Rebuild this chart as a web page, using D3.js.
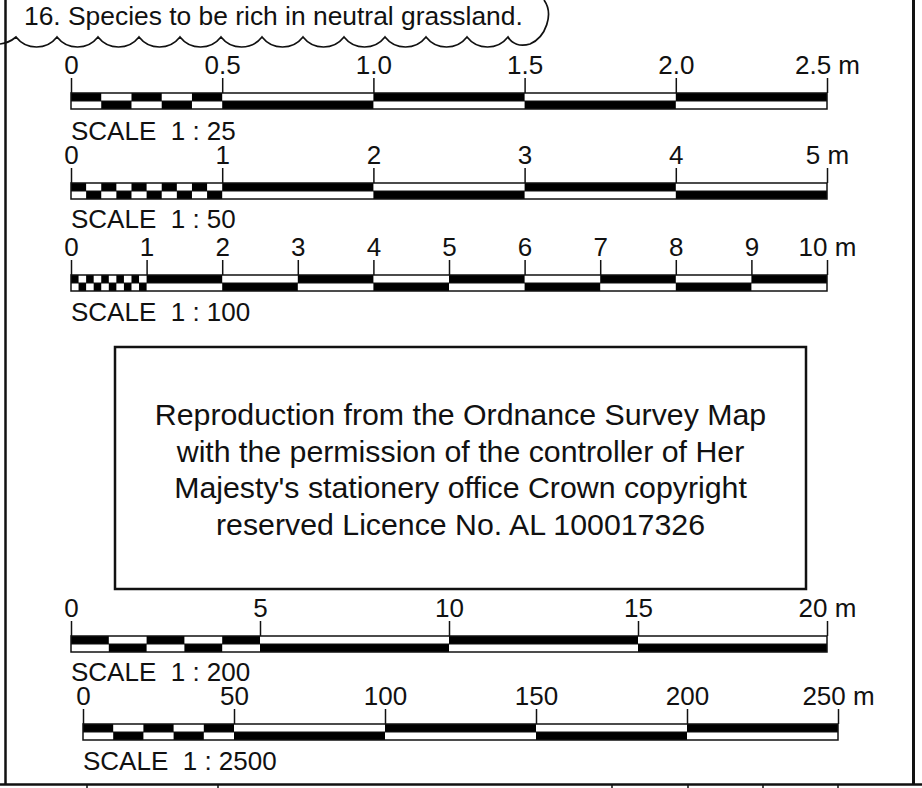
<!DOCTYPE html>
<html>
<head>
<meta charset="utf-8">
<script src="https://cdn.jsdelivr.net/npm/d3@7"></script>
<style>
  body { margin: 0; background: #fff; }
  svg { display: block; font-family: "Liberation Sans", Arial, sans-serif; }
  text { white-space: pre; fill: #111; }
</style>
</head>
<body>
<div id="chart"></div>
<script>
// scale bars, top to bottom
const scaleNames = ["SCALE  1 : 25", "SCALE  1 : 50", "SCALE  1 : 100", "SCALE  1 : 200", "SCALE  1 : 2500"];
const scaleMax = [2.5, 5, 10, 20, 250];
const scaleStep = [0.5, 1, 1, 5, 50];
const scaleSubdiv = [5, 10, 10, 5, 5];
const tickLabels = [
  ["0", "0.5", "1.0", "1.5", "2.0", "2.5 m"],
  ["0", "1", "2", "3", "4", "5 m"],
  ["0", "1", "2", "3", "4", "5", "6", "7", "8", "9", "10 m"],
  ["0", "5", "10", "15", "20 m"],
  ["0", "50", "100", "150", "200", "250 m"]
];
const titleText = "16. Species to be rich in neutral grassland.";
const noticeLines = [
  "Reproduction from the Ordnance Survey Map",
  "with the permission of the controller of Her",
  "Majesty's stationery office Crown copyright",
  "reserved Licence No. AL 100017326"
];
const tableTicks = [87, 218, 612, 688, 763, 838];

let width = 922, height = 788;
// layout of each bar: left, right, top of bar, name baseline
let barLeft = [71, 71, 71, 71, 83];
let barRight = [827, 827, 827, 827, 838];
let barTop = [93, 183, 275, 636, 724];
let nameY = [140, 228, 321, 681, 770];
let barH = 16;

const svg = d3.select("#chart").append("svg")
    .attr("width", width)
    .attr("height", height);

// frame
svg.append("line").attr("x1", 5.5).attr("x2", 5.5).attr("y1", 0).attr("y2", 785)
   .attr("stroke", "#111").attr("stroke-width", 2.5);
svg.append("line").attr("x1", 913.5).attr("x2", 913.5).attr("y1", 0).attr("y2", 785)
   .attr("stroke", "#111").attr("stroke-width", 3);
svg.append("line").attr("x1", 0).attr("x2", 922).attr("y1", 784.5).attr("y2", 784.5)
   .attr("stroke", "#111").attr("stroke-width", 2.5);
svg.append("g").selectAll("line")
   .data(tableTicks)
   .join("line")
   .attr("x1", d => d).attr("x2", d => d)
   .attr("y1", 784).attr("y2", 788)
   .attr("stroke", "#111").attr("stroke-width", 1.5);

// cloud with scalloped bottom
let cloud = "M0,44 Q9,43 16,37";
let sx = 16, step = 41;
for (let i = 0; i < 12; i++) {
    cloud += ` A26,26 0 0 0 ${sx + step},37`;
    sx += step;
}
cloud += ` C${sx + 4},44 ${sx + 12},47 ${sx + 22},44 C${sx + 38},37 ${sx + 46},14 ${sx + 36},0`;
svg.append("path").attr("d", cloud)
   .attr("fill", "none").attr("stroke", "#111").attr("stroke-width", 1.7);
svg.append("text").attr("x", 24).attr("y", 25)
   .attr("font-size", 26.4).text(titleText);

// scale bars
scaleMax.forEach((max, k) => {
    let x = d3.scaleLinear().domain([0, max]).range([barLeft[k], barRight[k]]);
    let top = barTop[k];

    // cells: subdivisions of the first step, then whole steps
    let cells = [];
    let sub = scaleStep[k] / scaleSubdiv[k];
    for (let i = 0; i < scaleSubdiv[k]; i++) cells.push([i * sub, (i + 1) * sub]);
    for (let v = scaleStep[k]; v < max - 1e-9; v += scaleStep[k]) cells.push([v, v + scaleStep[k]]);

    let g = svg.append("g");
    g.selectAll("rect.cell")
     .data(cells)
     .join("rect")
     .attr("class", "cell")
     .attr("x", d => x(d[0]))
     .attr("width", d => x(d[1]) - x(d[0]))
     .attr("y", (d, i) => i % 2 === 0 ? top : top + barH / 2)
     .attr("height", barH / 2)
     .attr("fill", "#000");

    g.append("rect")
     .attr("x", x(0)).attr("y", top)
     .attr("width", x(max) - x(0)).attr("height", barH)
     .attr("fill", "none").attr("stroke", "#111").attr("stroke-width", 1.5);
    g.append("line")
     .attr("x1", x(0)).attr("x2", x(max))
     .attr("y1", top + barH / 2).attr("y2", top + barH / 2)
     .attr("stroke", "#111").attr("stroke-width", 1);

    let values = tickLabels[k].map((t, i) => i * max / (tickLabels[k].length - 1));
    let axis = d3.axisTop(x)
        .tickValues(values)
        .tickFormat((d, i) => tickLabels[k][i])
        .tickSize(15)
        .tickPadding(4);
    let ag = svg.append("g")
        .attr("transform", `translate(0,${top})`)
        .call(axis);
    ag.select(".domain").remove();
    ag.selectAll(".tick line").attr("stroke", "#111").attr("stroke-width", 1.5);
    ag.selectAll(".tick text")
      .attr("fill", "#111")
      .attr("font-size", 26)
      .attr("font-family", "'Liberation Sans', Arial, sans-serif");

    svg.append("text")
       .attr("x", barLeft[k]).attr("y", nameY[k])
       .attr("font-size", 26)
       .text(scaleNames[k]);
});

// copyright notice box
svg.append("rect")
   .attr("x", 115).attr("y", 347).attr("width", 691).attr("height", 242)
   .attr("fill", "none").attr("stroke", "#111").attr("stroke-width", 2.5);
svg.append("g").selectAll("text")
   .data(noticeLines)
   .join("text")
   .attr("x", 460.5)
   .attr("y", (d, i) => 425 + i * 36.7)
   .attr("text-anchor", "middle")
   .attr("font-size", 30.3)
   .text(d => d);
</script>
</body>
</html>
